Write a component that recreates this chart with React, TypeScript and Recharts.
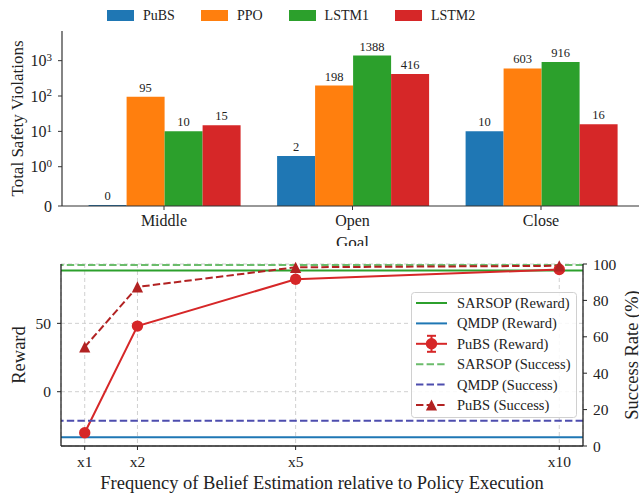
import React from 'react';
import {
  BarChart, Bar, XAxis, YAxis, Legend, LabelList,
  ComposedChart, Line, ReferenceLine, CartesianGrid, ErrorBar,
} from 'recharts';

const FONT = '"Liberation Serif", "Times New Roman", Times, serif';

// ---------- Top chart data ----------
const goals = ['Middle', 'Open', 'Close'];
const pubsViolations = [0, 2, 10];
const ppoViolations = [95, 198, 603];
const lstm1Violations = [10, 1388, 916];
const lstm2Violations = [15, 416, 16];
const violationTicks = [0, 1, 10, 100, 1000];
const violationTickBase = ['0', '10', '10', '10', '10'];
const violationTickExp = ['', '0', '1', '2', '3'];
const barSeriesNames = ['PuBS', 'PPO', 'LSTM1', 'LSTM2'];
const barSeriesColors = ['#1f77b4', '#ff7f0e', '#2ca02c', '#d62728'];

// ---------- Bottom chart data ----------
const freqs = [1, 2, 5, 10];
const freqTicks = [1, 2, 5, 10];
const pubsReward = [-30, 48, 82.2, 89.4];
const pubsRewardErr = [1.2, 1, 0.8, 0.5];
const pubsSuccess = [54.4, 87.4, 98.2, 99];
const sarsopReward = 88.7;
const qmdpReward = -33.3;
const sarsopSuccess = 99.4;
const qmdpSuccess = 13.9;
const rewardTicks = [0, 50];
const successTicks = [0, 20, 40, 60, 80, 100];

// symlog transform (linthresh = 1, base 10, linscale = 1)
const LIN = 1 / (1 - 1 / 10);
const symlog = (v: number) => (v <= 1 ? v * LIN : LIN + Math.log10(v));
const SYM_MAX = 4.95;

const seriesValues = [pubsViolations, ppoViolations, lstm1Violations, lstm2Violations];
const barData = goals.map((g, i) => {
  const row: any = { goal: g };
  barSeriesNames.forEach((n, k) => {
    row[n] = symlog(seriesValues[k][i]);
    row[n + '_raw'] = seriesValues[k][i];
  });
  return row;
});
const violationTicksT = violationTicks.map(symlog);

const lineData = freqs.map((f, i) => ({
  f,
  reward: pubsReward[i],
  err: pubsRewardErr[i],
  success: pubsSuccess[i],
}));

const SymTick = (props: any) => {
  const { x, y, payload } = props;
  let idx = 0;
  let best = Infinity;
  violationTicksT.forEach((t, i) => {
    const d = Math.abs(t - payload.value);
    if (d < best) { best = d; idx = i; }
  });
  const exp = violationTickExp[idx];
  return (
    <text x={x} y={y} dy="0.355em" textAnchor="end" fontFamily={FONT} fontSize={16} fill="#222">
      {violationTickBase[idx]}
      {exp ? <tspan dy="-0.48em" fontSize={11}>{exp}</tspan> : null}
    </text>
  );
};

const TopLegend = () => (
  <div style={{ display: 'flex', alignItems: 'center', height: 31, paddingLeft: 107, fontFamily: FONT, fontSize: 14, color: '#222' }}>
    {barSeriesNames.map((n, i) => (
      <div key={n} style={{ display: 'flex', alignItems: 'center', marginRight: 26 }}>
        <div style={{ width: 27, height: 11, background: barSeriesColors[i], marginRight: 9 }} />
        <span>{n}</span>
      </div>
    ))}
  </div>
);

const RotLabel = ({ cx, cy, text, size }: any) => (
  <text x={cx} y={cy} transform={`rotate(-90 ${cx} ${cy})`} textAnchor="middle" dominantBaseline="central"
    fontFamily={FONT} fontSize={size} fill="#222">{text}</text>
);

const TriangleDot = (props: any) => {
  const { cx, cy, index } = props;
  if (cx == null || cy == null) return null;
  const s = 5.6;
  return <polygon key={`tri-${index}`} points={`${cx},${cy - s} ${cx - s},${cy + s} ${cx + s},${cy + s}`} fill="#b22222" />;
};

const CircleDot = (props: any) => {
  const { cx, cy, index } = props;
  if (cx == null || cy == null) return null;
  return <circle key={`c-${index}`} cx={cx} cy={cy} r={5.7} fill="#d62728" />;
};

const legendItems = [
  { label: 'SARSOP (Reward)', color: '#2ca02c', dash: '', marker: '' },
  { label: 'QMDP (Reward)', color: '#1f77b4', dash: '', marker: '' },
  { label: 'PuBS (Reward)', color: '#d62728', dash: '', marker: 'circle' },
  { label: 'SARSOP (Success)', color: '#6bbc6b', dash: '7.4 3.2', marker: '' },
  { label: 'QMDP (Success)', color: '#4d4dae', dash: '7.4 3.2', marker: '' },
  { label: 'PuBS (Success)', color: '#b22222', dash: '7.4 3.2', marker: 'tri' },
];

const BottomLegend = () => (
  <svg width={166} height={126} style={{ display: 'block' }}>
    <rect x={0.5} y={0.5} width={165} height={125} rx={3} fill="#fff" fillOpacity={0.85} stroke="#d0d0d0" />
    {legendItems.map((it, i) => {
      const cy = 11 + i * 20.4;
      return (
        <g key={it.label}>
          <line x1={5} x2={36} y1={cy} y2={cy} stroke={it.color} strokeWidth={2} strokeDasharray={it.dash || undefined} />
          {it.marker === 'circle' ? (
            <g>
              <line x1={20.5} x2={20.5} y1={cy - 8} y2={cy + 8} stroke={it.color} strokeWidth={2} />
              <line x1={16} x2={25} y1={cy - 8} y2={cy - 8} stroke={it.color} strokeWidth={2} />
              <line x1={16} x2={25} y1={cy + 8} y2={cy + 8} stroke={it.color} strokeWidth={2} />
              <circle cx={20.5} cy={cy} r={5.7} fill={it.color} />
            </g>
          ) : null}
          {it.marker === 'tri' ? (
            <polygon points={`${20.5},${cy - 5.6} ${20.5 - 5.6},${cy + 5.6} ${20.5 + 5.6},${cy + 5.6}`} fill={it.color} />
          ) : null}
          <text x={46} y={cy} dominantBaseline="central" fontFamily={FONT} fontSize={14.5} fill="#222">{it.label}</text>
        </g>
      );
    })}
  </svg>
);

export default function App() {
  return (
    <div style={{ position: 'absolute', left: 0, top: 0, width: 639, height: 496, overflow: 'hidden', background: '#fff' }}>
      <div style={{ position: 'absolute', left: 0, top: 0, width: 639, height: 246, overflow: 'hidden' }}>
        <BarChart width={660} height={246} data={barData} margin={{ top: 31, right: 17, bottom: 0, left: 0 }}
          barCategoryGap="10%" barGap={0}>
          <XAxis xAxisId="top" orientation="top" dataKey="goal" tick={false} tickLine={false} height={0}
            axisLine={{ stroke: '#333', strokeWidth: 1.2 }} padding={{ left: 7.75, right: 7.75 }} />
          <XAxis dataKey="goal" interval={0} tickSize={4} tickMargin={5} height={40}
            padding={{ left: 7.75, right: 7.75 }}
            axisLine={{ stroke: '#333', strokeWidth: 1.2 }} tickLine={{ stroke: '#333' }}
            tick={{ fill: '#222', fontSize: 16, fontFamily: FONT }}
            label={{ value: 'Goal', position: 'insideBottom', offset: -2, fill: '#222', fontSize: 17, fontFamily: FONT }} />
          <YAxis type="number" domain={[0, SYM_MAX]} ticks={violationTicksT} interval={0} width={62}
            tickSize={4} tickMargin={6} tick={<SymTick />}
            axisLine={{ stroke: '#333', strokeWidth: 1.2 }} tickLine={{ stroke: '#333' }}
            label={(p: any) => <RotLabel cx={17} cy={118.5} text="Total Safety Violations" size={17} />} />
          <Legend layout="horizontal" verticalAlign="middle" align="center" content={() => <TopLegend />}
            wrapperStyle={{ position: 'absolute', top: 0, left: 0, width: 639, height: 31 }} />
          {barSeriesNames.map((n, i) => (
            <Bar key={n} dataKey={n} fill={barSeriesColors[i]} minPointSize={1} isAnimationActive={false}>
              <LabelList dataKey={n + '_raw'} position="top" offset={5} fill="#222" fontSize={12.5} fontFamily={FONT} />
            </Bar>
          ))}
        </BarChart>
      </div>
      <div style={{ position: 'absolute', left: 0, top: 246, width: 639, height: 250, overflow: 'hidden' }}>
        <ComposedChart width={639} height={250} data={lineData} margin={{ top: 18, right: 0, bottom: 0, left: 0 }}>
          <CartesianGrid yAxisId="r" stroke="#d0d0d0" strokeDasharray="4 3" />
          <XAxis xAxisId="top" orientation="top" type="number" dataKey="f" domain={[0.55, 10.45]} allowDataOverflow
            tick={false} tickLine={false} height={0} axisLine={{ stroke: '#222', strokeWidth: 1.3 }} />
          <XAxis type="number" dataKey="f" domain={[0.55, 10.45]} ticks={freqTicks} interval={0} allowDataOverflow
            tickFormatter={(v: number) => 'x' + v} height={50} tickSize={4} tickMargin={6}
            axisLine={{ stroke: '#222', strokeWidth: 1.3 }} tickLine={{ stroke: '#222' }}
            tick={{ fill: '#222', fontSize: 15.5, fontFamily: FONT }}
            label={{ value: 'Frequency of Belief Estimation relative to Policy Execution', position: 'insideBottom', offset: 7, fill: '#222', fontSize: 18.5, fontFamily: FONT }} />
          <YAxis yAxisId="r" type="number" domain={[-39.7, 93.4]} ticks={rewardTicks} interval={0} allowDataOverflow width={61}
            tickSize={4} tickMargin={6} axisLine={{ stroke: '#222', strokeWidth: 1.3 }} tickLine={{ stroke: '#222' }}
            tick={{ fill: '#222', fontSize: 15.5, fontFamily: FONT }}
            label={(p: any) => <RotLabel cx={18.5} cy={109} text="Reward" size={18.5} />} />
          <YAxis yAxisId="s" orientation="right" type="number" domain={[0, 100]} ticks={successTicks} interval={0} width={56}
            tickSize={4} tickMargin={6} axisLine={{ stroke: '#222', strokeWidth: 1.3 }} tickLine={{ stroke: '#222' }}
            tick={{ fill: '#222', fontSize: 15.5, fontFamily: FONT }}
            label={(p: any) => <RotLabel cx={632} cy={109} text="Success Rate (%)" size={18.5} />} />
          <ReferenceLine yAxisId="r" y={sarsopReward} stroke="#2ca02c" strokeWidth={2} />
          <ReferenceLine yAxisId="r" y={qmdpReward} stroke="#1f77b4" strokeWidth={2} />
          <Line yAxisId="r" dataKey="reward" stroke="#d62728" strokeWidth={2} dot={<CircleDot />} isAnimationActive={false}>
            <ErrorBar dataKey="err" width={4} stroke="#d62728" strokeWidth={2} direction="y" />
          </Line>
          <ReferenceLine yAxisId="s" y={sarsopSuccess} stroke="#6bbc6b" strokeWidth={2} strokeDasharray="7.4 3.2" />
          <ReferenceLine yAxisId="s" y={qmdpSuccess} stroke="#4d4dae" strokeWidth={2} strokeDasharray="7.4 3.2" />
          <Line yAxisId="s" dataKey="success" stroke="#b22222" strokeWidth={2} strokeDasharray="7.4 3.2" dot={<TriangleDot />} isAnimationActive={false} />
          <Legend layout="horizontal" verticalAlign="middle" align="center" content={() => <BottomLegend />}
            wrapperStyle={{ position: 'absolute', left: 411, top: 45.5, width: 166, height: 126 }} />
        </ComposedChart>
      </div>
    </div>
  );
}
